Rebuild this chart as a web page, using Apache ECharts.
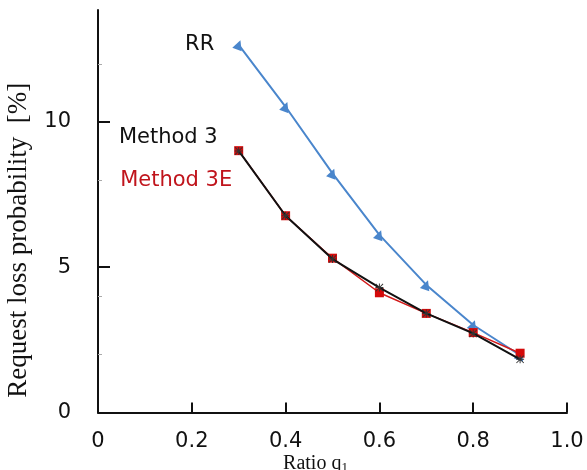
<!DOCTYPE html>
<html>
<head>
<meta charset="utf-8">
<script src="https://cdn.jsdelivr.net/npm/echarts@6/dist/echarts.min.js"></script>
<style>
  html, body { margin: 0; padding: 0; background: #ffffff; }
  #chart { width: 587px; height: 470px; }
</style>
</head>
<body>
<div id="chart"></div>
<script>
// ---- data ----
const ratioQ1 = [0.3, 0.4, 0.5, 0.6, 0.7, 0.8, 0.9];
const rrValues = [12.65, 10.52, 8.23, 6.11, 4.39, 3.01, 1.97];
const method3Values = [9.0, 6.77, 5.28, 4.3, 3.41, 2.72, 1.83];
const method3EValues = [9.01, 6.77, 5.31, 4.12, 3.41, 2.75, 2.04];
const seriesNames = ['RR', 'Method 3', 'Method 3E'];
const yTickValues = [0, 5, 10];
const yMinorTickValues = [2, 4, 8, 12];
const xTickLabels = ['0', '0.2', '0.4', '0.6', '0.8', '1.0'];

const pairs = (xs, ys) => xs.map((x, i) => [x, ys[i]]);

const asterisk = 'path://M4.4,0 L5.6,0 L5.6,10 L4.4,10 Z M0,4.4 L10,4.4 L10,5.6 L0,5.6 Z M0.8,0 L10,9.2 L9.2,10 L0,0.8 Z M9.2,0 L10,0.8 L0.8,10 L0,9.2 Z';

const chart = echarts.init(document.getElementById('chart'), null, { renderer: 'canvas' });

const firstLabel = (color, pos, offset, dist) => ({
  show: true,
  position: pos,
  distance: dist,
  offset: offset,
  color: color,
  fontFamily: 'DejaVu Sans',
  fontSize: 21,
  formatter: (p) => (p.dataIndex === 0 ? p.seriesName : '')
});

const option = {
  backgroundColor: '#ffffff',
  animation: false,
  grid: { left: 98, right: 20, top: 10, bottom: 57.5, containLabel: false, outerBoundsMode: 'none' },
  xAxis: {
    type: 'value',
    min: 0,
    max: 1,
    interval: 0.2,
    name: 'Ratio q{sub|1}',
    nameLocation: 'middle',
    nameGap: 40,
    nameMoveOverlap: false,
    nameTextStyle: {
      fontFamily: 'Liberation Serif',
      fontSize: 20,
      color: '#111',
      padding: [0, 34, 0, 0],
      rich: {
        sub: { fontFamily: 'Liberation Serif', fontSize: 13, color: '#111', verticalAlign: 'bottom', padding: [9, 0, 0, 0] }
      }
    },
    splitLine: { show: false },
    axisLine: { show: true, lineStyle: { color: '#111', width: 2 } },
    axisTick: { show: true, inside: true, length: 10, lineStyle: { color: '#111', width: 2 } },
    axisLabel: {
      fontFamily: 'DejaVu Sans',
      fontSize: 21,
      color: '#111',
      margin: 19,
      formatter: (v) => xTickLabels[Math.round(v / 0.2)]
    }
  },
  yAxis: [
    {
      type: 'value',
      min: 0,
      max: 13.85,
      interval: 5,
      name: 'Request loss probability  [%]',
      nameLocation: 'middle',
      nameGap: 66,
      nameRotate: 90,
      nameMoveOverlap: false,
      nameTextStyle: {
        fontFamily: 'Liberation Serif',
        fontSize: 27,
        color: '#111',
        padding: [0, 58, 0, 0]
      },
      splitLine: { show: false },
      axisLine: { show: true, lineStyle: { color: '#111', width: 2 } },
      axisTick: { show: true, inside: true, length: 12, customValues: [5, 10], lineStyle: { color: '#111', width: 2 } },
      axisLabel: {
        fontFamily: 'DejaVu Sans',
        fontSize: 21,
        color: '#111',
        margin: 27,
        customValues: yTickValues
      }
    },
    {
      type: 'value',
      min: 0,
      max: 13.85,
      position: 'left',
      splitLine: { show: false },
      axisLine: { show: false },
      axisLabel: { show: false },
      axisTick: { show: true, inside: true, length: 4, customValues: yMinorTickValues, lineStyle: { color: '#aaa', width: 1 } }
    }
  ],
  series: [
    {
      name: seriesNames[0],
      type: 'line',
      data: pairs(ratioQ1, rrValues),
      symbol: 'triangle',
      symbolSize: 10,
      symbolRotate: -20,
      lineStyle: { color: '#4a86cc', width: 2 },
      itemStyle: { color: '#4a86cc' },
      label: firstLabel('#111', 'left', [0, 0], 18),
      z: 2
    },
    {
      name: seriesNames[2],
      type: 'line',
      data: pairs(ratioQ1, method3EValues),
      symbol: 'rect',
      symbolSize: 9,
      lineStyle: { color: '#d21a1a', width: 1.5 },
      itemStyle: { color: '#d40a0a' },
      label: firstLabel('#c0141c', 'left', [0, 30], 2),
      z: 3
    },
    {
      name: seriesNames[1],
      type: 'line',
      data: pairs(ratioQ1, method3Values),
      symbol: asterisk,
      symbolSize: 8,
      lineStyle: { color: '#111', width: 2 },
      itemStyle: { color: '#333' },
      label: firstLabel('#111', 'left', [0, -13], 17),
      z: 4
    }
  ]
};

chart.setOption(option);
</script>
</body>
</html>
